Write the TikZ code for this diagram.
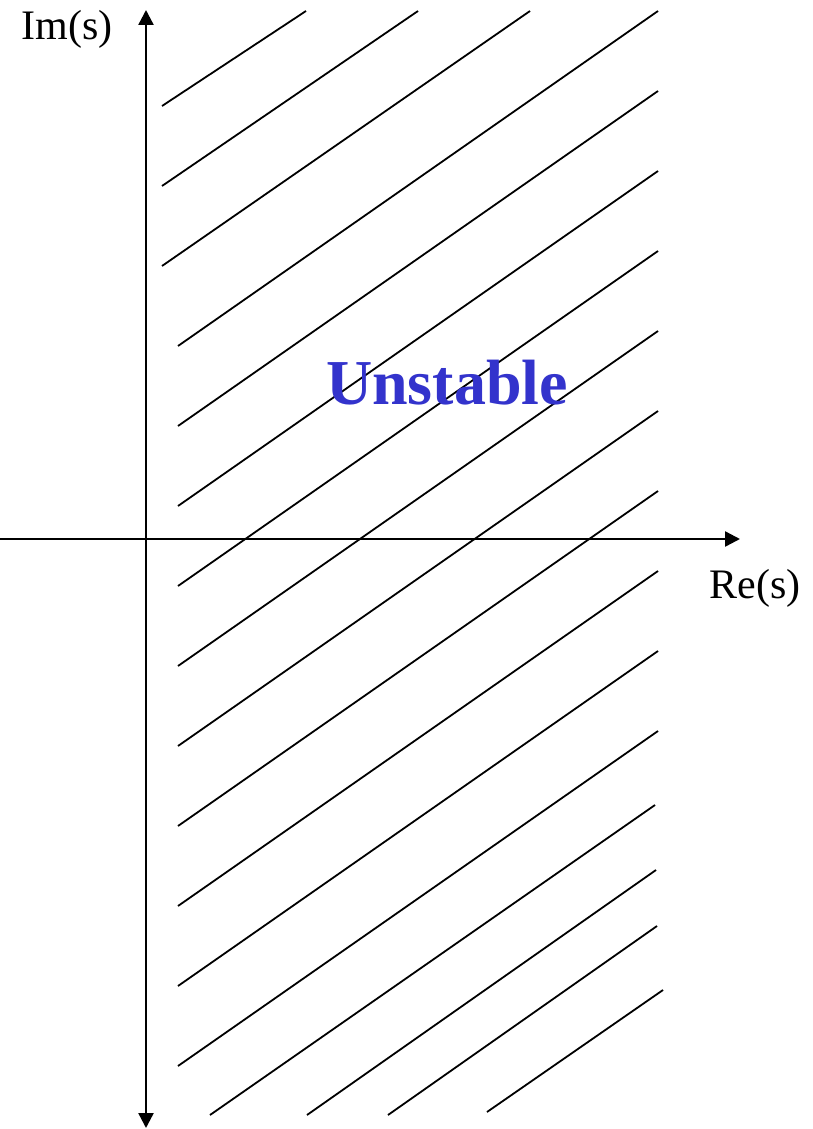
\documentclass[tikz,border=0pt]{standalone}
\usepackage{fontspec}
\setmainfont{Liberation Serif}
\usetikzlibrary{arrows.meta}
\definecolor{unstableblue}{RGB}{51,51,204}
\tikzset{
  axis/.style={line width=2.4pt, -{Triangle[length=15pt,width=15pt]}},
  hatch/.style={line width=1.8pt},
  axislabel/.style={anchor=base, inner sep=0pt, font=\fontsize{42}{50}\selectfont}
}
\begin{document}
\begin{tikzpicture}[x=1pt, y=-1pt]
  \useasboundingbox (0,0) rectangle (813,1129);

  \coordinate (top) at (146,10);
  \coordinate (bottom) at (146,1128);
  \coordinate (west) at (0,539);
  \coordinate (east) at (740,539);

  % hatching of the right half plane
  \foreach \xa/\ya/\xb/\yb in {162/106/306/11, 162/186/418/11, 162/266/530/11,
      178/346/658/11, 178/426/658/91, 178/506/658/171, 178/586/658/251,
      178/666/658/331, 178/746/658/411, 178/826/658/491, 178/906/658/571,
      178/986/658/651, 178/1066/658/731, 210/1115/655/805, 307/1115/656/870,
      388/1115/657/926, 487/1112/663/990}
    \draw[hatch] (\xa,\ya) -- (\xb,\yb);

  \draw[axis, {Triangle[length=15pt,width=15pt]}-{Triangle[length=15pt,width=15pt]}] (bottom) -- (top);
  \draw[axis] (west) -- (east);

  \node[axislabel] (im) at (67,40) {Im(s)};
  \node[axislabel] (re) at (755,598) {Re(s)};
  \node[anchor=base, inner sep=0pt, text=unstableblue,
        font=\fontsize{64}{70}\selectfont\bfseries] (unstable) at (447,404) {Unstable};
\end{tikzpicture}
\end{document}
